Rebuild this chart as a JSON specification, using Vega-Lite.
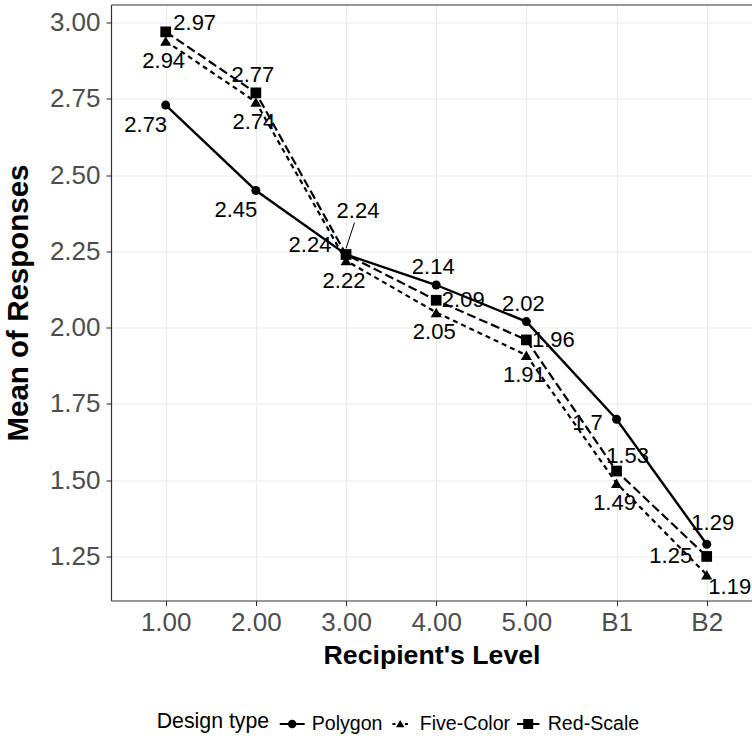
{
  "$schema": "https://vega.github.io/schema/vega-lite/v6.json",
  "width": 641,
  "height": 596,
  "autosize": "none",
  "padding": {"left": 111, "top": 4.5, "right": 0, "bottom": 139.5},
  "background": "white",
  "config": {"font": "Liberation Sans", "view": {"stroke": null}},
  "data": {
    "values": [
      {"design": "Polygon", "level": "1.00", "mean": 2.73},
      {"design": "Polygon", "level": "2.00", "mean": 2.45},
      {"design": "Polygon", "level": "3.00", "mean": 2.24},
      {"design": "Polygon", "level": "4.00", "mean": 2.14},
      {"design": "Polygon", "level": "5.00", "mean": 2.02},
      {"design": "Polygon", "level": "B1", "mean": 1.7},
      {"design": "Polygon", "level": "B2", "mean": 1.29},
      {"design": "Five-Color", "level": "1.00", "mean": 2.94},
      {"design": "Five-Color", "level": "2.00", "mean": 2.74},
      {"design": "Five-Color", "level": "3.00", "mean": 2.22},
      {"design": "Five-Color", "level": "4.00", "mean": 2.05},
      {"design": "Five-Color", "level": "5.00", "mean": 1.91},
      {"design": "Five-Color", "level": "B1", "mean": 1.49},
      {"design": "Five-Color", "level": "B2", "mean": 1.19},
      {"design": "Red-Scale", "level": "1.00", "mean": 2.97},
      {"design": "Red-Scale", "level": "2.00", "mean": 2.77},
      {"design": "Red-Scale", "level": "3.00", "mean": 2.24},
      {"design": "Red-Scale", "level": "4.00", "mean": 2.09},
      {"design": "Red-Scale", "level": "5.00", "mean": 1.96},
      {"design": "Red-Scale", "level": "B1", "mean": 1.53},
      {"design": "Red-Scale", "level": "B2", "mean": 1.25}
    ]
  },
  "encoding": {
    "x": {
      "field": "level",
      "type": "nominal",
      "sort": ["1.00", "2.00", "3.00", "4.00", "5.00", "B1", "B2"],
      "scale": {"type": "point", "padding": 0.5544, "align": 0.547},
      "axis": {
        "title": "Recipient's Level",
        "labelAngle": 0,
        "labelFontSize": 26,
        "labelColor": "#4d4d4d",
        "labelPadding": 4,
        "tickSize": 5,
        "tickColor": "#333333",
        "tickWidth": 1.1,
        "domainColor": "#333333",
        "domainWidth": 1.2,
        "grid": true,
        "gridColor": "#ebebeb",
        "gridWidth": 1.2,
        "titleFontSize": 26.7,
        "titleFontWeight": "bold",
        "titleColor": "black",
        "titlePadding": 7
      }
    },
    "y": {
      "field": "mean",
      "type": "quantitative",
      "scale": {"domain": [1.1056, 3.0597], "nice": false, "zero": false},
      "axis": {
        "title": "Mean of Responses",
        "values": [1.25, 1.5, 1.75, 2, 2.25, 2.5, 2.75, 3],
        "format": ".2f",
        "labelFontSize": 26,
        "labelColor": "#4d4d4d",
        "labelPadding": 6,
        "tickSize": 5,
        "tickColor": "#333333",
        "tickWidth": 1.1,
        "domainColor": "#333333",
        "domainWidth": 1.2,
        "grid": true,
        "gridColor": "#ebebeb",
        "gridWidth": 1.2,
        "titleFontSize": 29.5,
        "titleFontWeight": "bold",
        "titleColor": "black",
        "titlePadding": 16
      }
    }
  },
  "layer": [
    {
      "layer": [
        {
          "transform": [{"filter": "datum.design === 'Polygon'"}],
          "mark": {"type": "line", "color": "black", "strokeWidth": 2.4},
          "encoding": {}
        },
        {
          "transform": [{"filter": "datum.design === 'Five-Color'"}],
          "mark": {"type": "line", "color": "black", "strokeWidth": 2.2, "strokeDash": [5, 4]},
          "encoding": {}
        },
        {
          "transform": [{"filter": "datum.design === 'Red-Scale'"}],
          "mark": {"type": "line", "color": "black", "strokeWidth": 2.2, "strokeDash": [9, 4]},
          "encoding": {}
        },
        {
          "transform": [{"filter": "datum.design === 'Polygon'"}],
          "mark": {"type": "point", "shape": "circle", "filled": true, "size": 81, "color": "black", "opacity": 1}
        },
        {
          "transform": [{"filter": "datum.design === 'Five-Color'"}],
          "mark": {"type": "point", "shape": "triangle-up", "filled": true, "size": 121, "color": "black", "opacity": 1}
        },
        {
          "transform": [{"filter": "datum.design === 'Red-Scale'"}],
          "mark": {"type": "point", "shape": "square", "filled": true, "size": 115, "color": "black", "opacity": 1}
        },
        {
          "transform": [{"filter": "datum.design === 'Red-Scale' && datum.level === '3.00'"}],
          "mark": {"type": "rule", "color": "black", "strokeWidth": 1, "xOffset": 8.5, "yOffset": -32, "x2Offset": 0, "y2Offset": -6},
          "encoding": {
            "x2": {"field": "level"},
            "y2": {"field": "mean"}
          }
        },
        {
          "transform": [{"filter": "datum.design === 'Polygon' && (datum.level === '1.00' || datum.level === '2.00')"}],
          "mark": {"type": "text", "fontSize": 22, "color": "black", "align": "center", "baseline": "middle", "dx": -20, "dy": 19.5},
          "encoding": {"text": {"field": "mean", "type": "quantitative"}}
        },
        {
          "transform": [{"filter": "datum.design === 'Five-Color' && datum.level !== 'B2'"}],
          "mark": {"type": "text", "fontSize": 22, "color": "black", "align": "center", "baseline": "middle", "dx": -2, "dy": 20},
          "encoding": {"text": {"field": "mean", "type": "quantitative"}}
        },
        {
          "transform": [{"filter": "(datum.design === 'Polygon' && (datum.level === '4.00' || datum.level === '5.00')) || (datum.design === 'Red-Scale' && datum.level === '2.00')"}],
          "mark": {"type": "text", "fontSize": 22, "color": "black", "align": "center", "baseline": "middle", "dx": -3, "dy": -18},
          "encoding": {"text": {"field": "mean", "type": "quantitative"}}
        },
        {
          "transform": [{"filter": "datum.design === 'Red-Scale' && (datum.level === '4.00' || datum.level === '5.00')"}],
          "mark": {"type": "text", "fontSize": 22, "color": "black", "align": "center", "baseline": "middle", "dx": 27, "dy": 0},
          "encoding": {"text": {"field": "mean", "type": "quantitative"}}
        },
        {
          "transform": [{"filter": "datum.design === 'Polygon' && datum.level === '3.00'"}],
          "mark": {"type": "text", "fontSize": 22, "color": "black", "align": "center", "baseline": "middle", "dx": -36, "dy": -10},
          "encoding": {"text": {"field": "mean", "type": "quantitative"}}
        },
        {
          "transform": [{"filter": "datum.design === 'Polygon' && datum.level === 'B1'"}],
          "mark": {"type": "text", "fontSize": 22, "color": "black", "align": "center", "baseline": "middle", "dx": -29, "dy": 4},
          "encoding": {"text": {"field": "mean", "type": "quantitative"}}
        },
        {
          "transform": [{"filter": "datum.design === 'Polygon' && datum.level === 'B2'"}],
          "mark": {"type": "text", "fontSize": 22, "color": "black", "align": "center", "baseline": "middle", "dx": 6, "dy": -21},
          "encoding": {"text": {"field": "mean", "type": "quantitative"}}
        },
        {
          "transform": [{"filter": "datum.design === 'Five-Color' && datum.level === 'B2'"}],
          "mark": {"type": "text", "fontSize": 22, "color": "black", "align": "center", "baseline": "middle", "dx": 23, "dy": 12},
          "encoding": {"text": {"field": "mean", "type": "quantitative"}}
        },
        {
          "transform": [{"filter": "datum.design === 'Red-Scale' && datum.level === '1.00'"}],
          "mark": {"type": "text", "fontSize": 22, "color": "black", "align": "center", "baseline": "middle", "dx": 29, "dy": -9},
          "encoding": {"text": {"field": "mean", "type": "quantitative"}}
        },
        {
          "transform": [{"filter": "datum.design === 'Red-Scale' && datum.level === '3.00'"}],
          "mark": {"type": "text", "fontSize": 22, "color": "black", "align": "center", "baseline": "middle", "dx": 12, "dy": -44},
          "encoding": {"text": {"field": "mean", "type": "quantitative"}}
        },
        {
          "transform": [{"filter": "datum.design === 'Red-Scale' && datum.level === 'B1'"}],
          "mark": {"type": "text", "fontSize": 22, "color": "black", "align": "center", "baseline": "middle", "dx": 11, "dy": -15},
          "encoding": {"text": {"field": "mean", "type": "quantitative"}}
        },
        {
          "transform": [{"filter": "datum.design === 'Red-Scale' && datum.level === 'B2'"}],
          "mark": {"type": "text", "fontSize": 22, "color": "black", "align": "center", "baseline": "middle", "dx": -36, "dy": 0},
          "encoding": {"text": {"field": "mean", "type": "quantitative"}}
        }
      ]
    },
    {
      "mark": {"type": "point", "filled": true, "color": "black", "opacity": 0, "size": 1},
      "encoding": {
        "x": {
          "field": "level",
          "type": "nominal",
          "sort": ["1.00", "2.00", "3.00", "4.00", "5.00", "B1", "B2"],
          "axis": {"orient": "top", "labels": false, "ticks": false, "grid": false, "title": null, "domain": true, "domainColor": "#333333", "domainWidth": 1.2}
        },
        "shape": {
          "field": "design",
          "type": "nominal",
          "scale": {
            "domain": ["Polygon", "Five-Color", "Red-Scale"],
            "range": [
              "M-1,-0.08H-0.3V0.08H-1Z M0.3,-0.08H1V0.08H0.3Z M-0.34,0A0.34,0.34 0 1,1 0.34,0A0.34,0.34 0 1,1 -0.34,0Z",
              "M-0.62,-0.08H-0.38V0.08H-0.62Z M0.38,-0.08H0.62V0.08H0.38Z M0,-0.32L0.34,0.26L-0.34,0.26Z",
              "M-0.9,-0.08H-0.4V0.08H-0.9Z M0.4,-0.08H0.9V0.08H0.4Z M-0.4,-0.4H0.4V0.4H-0.4Z"
            ]
          },
          "legend": {
            "title": "Design type",
            "orient": "none",
            "legendX": 45.7,
            "legendY": 706.5,
            "direction": "horizontal",
            "titleOrient": "left",
            "titleFontSize": 21.3,
            "titleFontWeight": "normal",
            "titleColor": "black",
            "titlePadding": 10,
            "labelFontSize": 19.6,
            "labelColor": "black",
            "labelOffset": 7,
            "columnPadding": 5,
            "symbolSize": 625,
            "symbolStrokeWidth": 0,
            "symbolFillColor": "black",
            "symbolOpacity": 1,
            "encode": {
              "symbols": {
                "update": {
                  "opacity": {"value": 1},
                  "fill": {"value": "black"},
                  "fillOpacity": {"value": 1},
                  "strokeWidth": {"value": 0},
                  "size": {"value": 625}
                }
              }
            }
          }
        }
      }
    }
  ],
  "resolve": {"axis": {"x": "independent"}}
}
